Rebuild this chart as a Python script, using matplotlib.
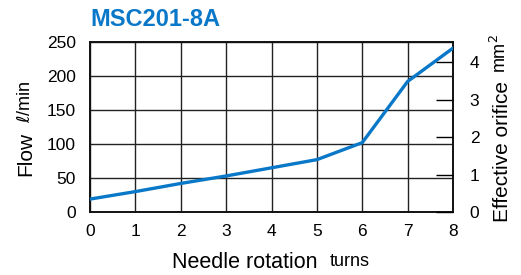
import matplotlib.pyplot as plt

plt.rcParams['font.family'] = ['Liberation Sans', 'DejaVu Sans']

# data
turns = [0, 1, 2, 3, 4, 5, 6, 7, 8]
flow = [19, 30, 42, 53, 65, 77, 102, 192, 241]
xticks = [0, 1, 2, 3, 4, 5, 6, 7, 8]
yticks = [0, 50, 100, 150, 200, 250]
orifice_ticks = [0, 1, 2, 3, 4]

blue = '#0a78c8'

fig = plt.figure(figsize=(5.21, 2.75), dpi=100)
ax = fig.add_axes([90 / 521, 1 - 212 / 275, 363 / 521, 170 / 275])

ax.plot(turns, flow, color=blue, lw=2.4, solid_joinstyle='miter', zorder=3)
ax.set_xlim(0, 8)
ax.set_ylim(0, 250)
ax.set_xticks(xticks)
ax.set_yticks(yticks)
ax.grid(True, color='#222222', lw=1.0)
ax.tick_params(axis='both', length=0, labelsize=12.5)
ax.tick_params(axis='y', pad=10)
ax.tick_params(axis='x', pad=9)
for s in ax.spines.values():
    s.set_linewidth(1.4)
    s.set_color('#111111')

# right axis, effective orifice
ax2 = ax.twinx()
ax2.set_ylim(0, 250 / 55.0)
ax2.set_yticks(orifice_ticks)
ax2.tick_params(axis='y', direction='in', length=12, width=1.0, labelsize=12.5, pad=12)
for s in ax2.spines.values():
    s.set_visible(False)

# title
fig.text(155 / 521, 1 - 19 / 275, 'MSC201-8A', color=blue, fontsize=17,
         fontweight='bold', ha='center', va='center')

# y label left
fig.text(26 / 521, 1 - 154 / 275, 'Flow', rotation=90, fontsize=15,
         ha='center', va='center')
fig.text(25 / 521, 1 - 102 / 275, r'$\ell$/min', rotation=90, fontsize=13,
         ha='center', va='center')

# x label
fig.text(245 / 521, 1 - 263 / 275, 'Needle rotation', fontsize=15.5,
         ha='center', va='center')
fig.text(350 / 521, 1 - 262 / 275, 'turns', fontsize=13,
         ha='center', va='center')

# right label
fig.text(502 / 521, 1 - 151 / 275, 'Effective orifice', rotation=90,
         fontsize=15, ha='center', va='center')
fig.text(500 / 521, 1 - 54 / 275, r'mm$^2$', rotation=90, fontsize=13,
         ha='center', va='center')

fig.savefig('out.png', dpi=100)
